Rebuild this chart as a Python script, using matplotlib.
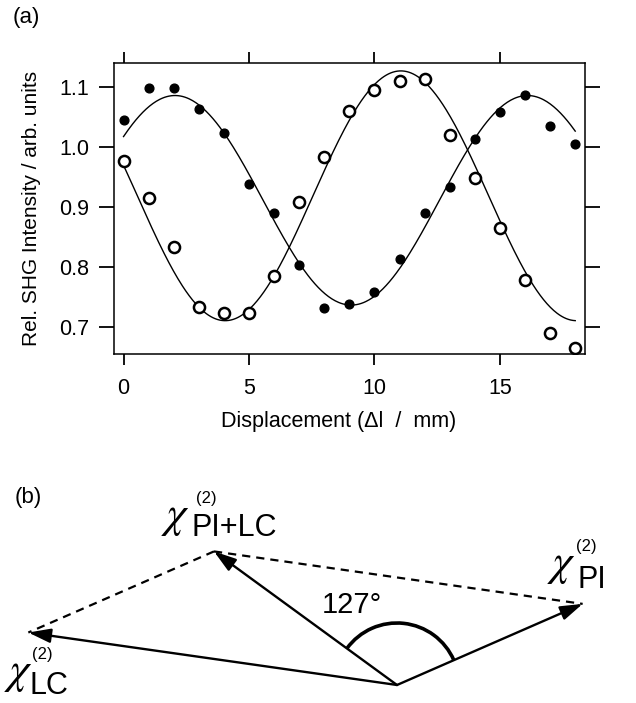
import numpy as np
import matplotlib
matplotlib.use("Agg")
import matplotlib.pyplot as plt
from matplotlib.patches import Arc

plt.rcParams['font.family'] = ['Liberation Sans', 'DejaVu Sans']

# ---------------- data: panel (a) ----------------
displacement = [0, 1, 2, 3, 4, 5, 6, 7, 8, 9, 10, 11, 12, 13, 14, 15, 16, 17, 18]
filled_vals = [1.045, 1.098, 1.098, 1.062, 1.022, 0.937, 0.889, 0.803, 0.731, 0.737,
               0.757, 0.812, 0.889, 0.932, 1.012, 1.058, 1.086, 1.035, 1.005]
open_vals = [0.976, 0.915, 0.832, 0.733, 0.723, 0.722, 0.785, 0.908, 0.982, 1.059,
             1.095, 1.109, 1.112, 1.020, 0.948, 0.864, 0.777, 0.689, 0.664]

# cosine fit parameters: offset, amplitude, period, peak position
fit_filled = dict(offset=0.9105, amp=0.1745, period=14.05, peak=2.05)
fit_open = dict(offset=0.918, amp=0.208, period=14.0, peak=11.05)

x_ticks = [0, 5, 10, 15]
y_ticks = [0.7, 0.8, 0.9, 1.0, 1.1]
y_ticklabels = ["0.7", "0.8", "0.9", "1.0", "1.1"]

# ---------------- data: panel (b) ----------------
# vector magnitudes (diagram units) and directions (degrees)
chi_PI = dict(mag=202.6, ang=23.6)
chi_LC = dict(mag=372.4, ang=171.9)
angle_label = "127°"

# ---------------- figure ----------------
fig = plt.figure(figsize=(6.36, 7.03), dpi=100)

# panel (b) canvas (pixel-like units)
axb = fig.add_axes([0, 0, 1, 1])
axb.set_xlim(0, 636)
axb.set_ylim(0, 703)
axb.axis('off')
axb.patch.set_alpha(0)

origin = np.array([397.0, 18.0])


def vec(d):
    a = np.deg2rad(d['ang'])
    return np.array([d['mag'] * np.cos(a), d['mag'] * np.sin(a)])


v_pi = vec(chi_PI)
v_lc = vec(chi_LC)
v_sum = v_pi + v_lc
tip_pi = origin + v_pi
tip_lc = origin + v_lc
tip_sum = origin + v_sum

# dashed parallelogram sides
for tip in (tip_pi, tip_lc):
    axb.plot([tip_sum[0], tip[0]], [tip_sum[1], tip[1]], color='k', lw=1.6,
             linestyle=(0, (3.7, 2.7)), solid_capstyle='butt')

# solid vectors
for tip in (tip_pi, tip_lc, tip_sum):
    axb.annotate('', xy=tip, xytext=origin,
                 arrowprops=dict(arrowstyle='-|>,head_length=0.75,head_width=0.24',
                                 mutation_scale=18, lw=1.7, color='k',
                                 shrinkA=0, shrinkB=0))

ang_sum = np.degrees(np.arctan2(v_sum[1], v_sum[0]))
axb.add_patch(Arc(origin, 124, 124, theta1=chi_PI['ang'], theta2=ang_sum,
                  lw=2.6, color='k'))
axb.text(352, 98, angle_label, fontsize=21, ha='center', va='center')

chi_kw = dict(fontsize=32, math_fontfamily='stix', ha='center', va='center')
# chi PI+LC
axb.text(175, 186, r'$\chi$', **chi_kw)
axb.text(206, 205, '(2)', fontsize=12, ha='center', va='center')
axb.text(192, 175, 'PI+LC', fontsize=22, ha='left', va='center')
# chi PI
axb.text(561, 138, r'$\chi$', **chi_kw)
axb.text(586, 156, '(2)', fontsize=12, ha='center', va='center')
axb.text(577, 123, 'PI', fontsize=22, ha='left', va='center')
# chi LC
axb.text(18, 29, r'$\chi$', **chi_kw)
axb.text(42, 48, '(2)', fontsize=12, ha='center', va='center')
axb.text(29, 17, 'LC', fontsize=22, ha='left', va='center')

fig.text(26 / 636, 1 - 17 / 703, '(a)', fontsize=16, ha='center', va='center')
fig.text(28 / 636, 1 - 497 / 703, '(b)', fontsize=16, ha='center', va='center')

# panel (a)
ax = fig.add_axes([114 / 636, 1 - 354 / 703, 471 / 636, 291.5 / 703])
xf = np.linspace(displacement[0], displacement[-1], 400)


def model(p, x):
    return p['offset'] + p['amp'] * np.cos(2 * np.pi * (x - p['peak']) / p['period'])


ax.plot(xf, model(fit_filled, xf), color='k', lw=1.0)
ax.plot(xf, model(fit_open, xf), color='k', lw=1.0)
ax.plot(displacement, filled_vals, 'o', ms=6.3, color='k', mec='k')
ax.plot(displacement, open_vals, 'o', ms=8, mfc='white', mec='k', mew=1.8)

ax.set_xlim(-0.38, 18.39)
ax.set_ylim(0.6545, 1.14)
ax.set_xticks(x_ticks)
ax.set_yticks(y_ticks)
ax.set_yticklabels(y_ticklabels)
for s in ax.spines.values():
    s.set_linewidth(1.1)
ax.tick_params(axis='x', direction='out', length=8, width=1.3, top=True,
               labeltop=False, labelsize=15.5, pad=9)
ax.tick_params(axis='y', direction='out', length=11, width=1.3, right=True,
               labelright=False, labelsize=15.5, pad=7)
ax.set_xlabel('Displacement (Δl  /  mm)', fontsize=15.5)
ax.set_ylabel('Rel. SHG Intensity / arb. units', fontsize=15)
ax.xaxis.set_label_coords(0.476, -0.197)
ax.yaxis.set_label_coords(-0.156, 0.5)

fig.savefig('out.png', dpi=100)
